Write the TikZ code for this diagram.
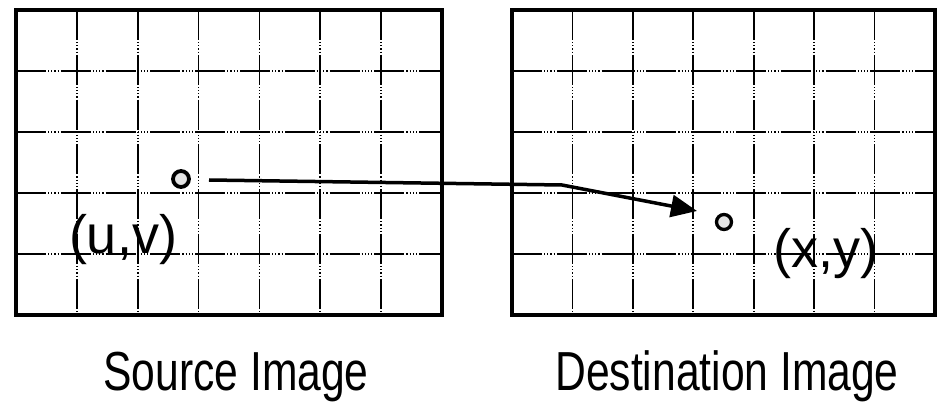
\documentclass[tikz,border=0pt]{standalone}
\usepackage{fontspec}
\setmainfont{Liberation Sans}
\newfontfamily\narrowfont[FakeStretch=0.775]{Liberation Sans}
\usetikzlibrary{arrows.meta}
\tikzset{
  frame/.style={draw=black, line width=3.2pt},
  gridline/.style={draw=black, line width=1.8pt,
    dash pattern=on 30pt off 2pt on 1.2pt off 2pt on 1.2pt off 2pt on 1.2pt off 2pt on 1.2pt off 2pt},
  pixel/.style={circle, draw=black, fill=gray!22, inner sep=0pt, minimum size=16pt, line width=3.8pt},
  coordlabel/.style={font=\fontsize{54}{60}\selectfont, inner sep=0pt},
  caption/.style={font=\narrowfont\fontsize{55}{62}\selectfont, inner sep=0pt, anchor=base},
  maparrow/.style={draw=black, line width=3.5pt, line join=round,
    -{Triangle[length=26pt,width=22pt]}}
}
\begin{document}
\begin{tikzpicture}[x=1pt,y=-1pt]
\useasboundingbox (0,0) rectangle (939,403);
% image grids
\foreach \i in {1,...,6} {
  \draw[gridline] ({16+\i*60.857},10) -- ({16+\i*60.857},315);
  \draw[gridline] ({512+\i*60.43},10) -- ({512+\i*60.43},315);
}
\foreach \j in {1,...,4} {
  \draw[gridline] (16,{10+\j*61}) -- (442,{10+\j*61});
  \draw[gridline] (512,{10+\j*61}) -- (935,{10+\j*61});
}
\draw[frame] (16,10) rectangle (442,315);
\draw[frame] (512,10) rectangle (935,315);
% points
\node[pixel] (src) at (181,179) {};
\node[pixel, line width=3.3pt, minimum size=15pt] (dst) at (724,222) {};
\node[coordlabel] (uv) at (123,240) {(u,v)};
\node[coordlabel] (xy) at (826,254) {(x,y)};
% mapping arrow
\coordinate (start) at (209,180);
\coordinate (bend) at (562,185);
\coordinate (tip) at (697,211);
\draw[maparrow] (start) -- (bend) -- (tip);
% captions
\node[caption] (srccap) at (236,390) {Source Image};
\node[caption] (dstcap) at (727,390) {Destination Image};
\end{tikzpicture}
\end{document}
